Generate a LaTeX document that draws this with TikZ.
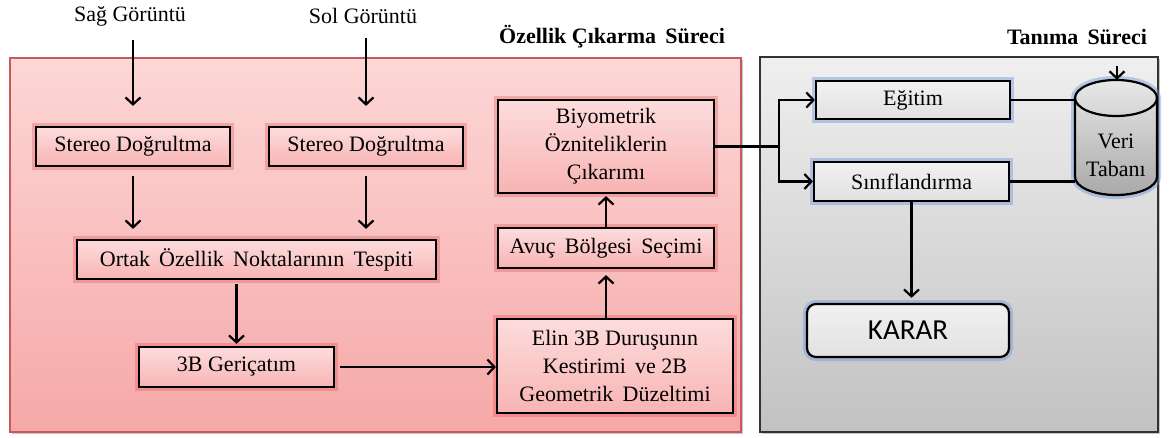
\documentclass[tikz,border=0pt]{standalone}
\usepackage{fontspec}
\setmainfont{Liberation Serif}
\newfontfamily\karfont{Carlito}
\usetikzlibrary{arrows.meta,shadows}
\definecolor{pinkA}{HTML}{FDD6D6}
\definecolor{pinkB}{HTML}{F6A8A8}
\definecolor{pinkBorder}{HTML}{C85A5A}
\definecolor{boxA}{HTML}{FDDCDC}
\definecolor{boxB}{HTML}{F8B4B4}
\definecolor{redglow}{HTML}{E04848}
\definecolor{grayA}{HTML}{EFEFEF}
\definecolor{grayB}{HTML}{C2C2C2}
\definecolor{blueglow}{HTML}{6F98D8}
\definecolor{cylA}{HTML}{E8E8E8}
\definecolor{cylB}{HTML}{A9A9A9}
\begin{document}
\begin{tikzpicture}[x=1pt,y=-1pt,
  txt/.style={font=\fontsize{22}{28}\selectfont, align=center, inner sep=0pt},
  ttl/.style={font=\fontsize{22}{26}\selectfont\bfseries, inner sep=0pt},
  pbox/.style={txt, draw=black, line width=2.2pt, top color=boxA, bottom color=boxB,
     preaction={draw=redglow, line width=8pt, draw opacity=0.3}},
  bbox/.style={txt, draw=black, line width=2.2pt, top color=grayA!90!white, bottom color=grayA!70!grayB,
     preaction={draw=blueglow, line width=8pt, draw opacity=0.45}},
  arr/.style={line width=2.2pt, -{Straight Barb[length=7pt,width=15pt,line width=2.2pt]}},
  ln/.style={line width=2.2pt}
]
\useasboundingbox (0,0) rectangle (1169,438);
% big panels
\node[draw=pinkBorder, line width=1.4pt, top color=pinkA, bottom color=pinkB,
      minimum width=731pt, minimum height=374pt, inner sep=0pt,
      drop shadow={shadow xshift=2pt, shadow yshift=-2pt, opacity=0.45}] (fpanel) at (375.5,245) {};
\node[draw=black!80, line width=1.4pt, top color=grayA, bottom color=grayB,
      minimum width=398pt, minimum height=375pt, inner sep=0pt,
      drop shadow={shadow xshift=2pt, shadow yshift=-2pt, opacity=0.45}] (tpanel) at (959,244.5) {};
\node[ttl] (t1) at (612,37) {Özellik Çıkarma\, Süreci};
\node[ttl] (t2) at (1077,37) {Tanıma\, Süreci};
% inputs
\node[txt] (sag) at (130,16) {Sağ Görüntü};
\node[txt] (sol) at (363,16) {Sol Görüntü};
% left boxes
\node[pbox, minimum width=194pt, minimum height=39pt] (sd1) at (133,146.5) {Stereo Doğrultma};
\node[pbox, minimum width=194pt, minimum height=39pt] (sd2) at (366,146.5) {Stereo Doğrultma};
\node[pbox, minimum width=359pt, minimum height=39pt] (ortak) at (256.5,259.5) {Ortak\, Özellik\, Noktalarının\, Tespiti};
\node[pbox, minimum width=195pt, minimum height=40pt] (ger) at (236.5,367) {3B Geriçatım};
\node[pbox, minimum width=236pt, minimum height=94pt] (elin) at (615,366) {Elin 3B Duruşunın\\Kestirimi\, ve 2B\\Geometrik\, Düzeltimi};
\node[pbox, minimum width=216pt, minimum height=40pt] (avuc) at (606,248) {Avuç\, Bölgesi\, Seçimi};
\node[pbox, minimum width=216pt, minimum height=93pt] (biyo) at (606,146.5) {Biyometrik\\Öznitelikler\-in\\Çıkarımı};
% right boxes
\node[bbox, minimum width=194pt, minimum height=38pt] (egit) at (913,100) {Eğitim};
\node[bbox, minimum width=195pt, minimum height=39pt] (sinif) at (911.5,181.5) {Sınıflandırma};
\node[bbox, rounded corners=9pt, minimum width=202pt, minimum height=53pt,
      font=\karfont\fontsize{29}{30}\selectfont] (karar) at (908,330.5) {KARAR};
% cylinder
\draw[draw=blueglow, draw opacity=0.45, line width=8pt] (1075,98) -- (1075,177) arc[start angle=180, end angle=0, x radius=41, y radius=18] -- (1157,98) arc[start angle=0, end angle=-180, x radius=41, y radius=18] -- cycle;
\draw[line width=2.2pt, top color=cylA, bottom color=cylB] (1075,98) -- (1075,177) arc[start angle=180, end angle=0, x radius=41, y radius=18] -- (1157,98) arc[start angle=0, end angle=-180, x radius=41, y radius=18] -- cycle;
\draw[line width=2.2pt] (1075,98) arc[start angle=180, end angle=0, x radius=41, y radius=18];
\node[txt, minimum width=82pt, minimum height=115pt] (veri) at (1116,137.5) {};
\node[txt] (veritxt) at (1116,155) {Veri\\Tabanı};
\coordinate (vtop) at (1117,66);
% connectors
\draw[arr, shorten <=14pt, shorten >=20pt] (sag.south -| sd1.north) -- (sd1.north);
\draw[arr, shorten <=14pt, shorten >=20pt] (sol.south -| sd2.north) -- (sd2.north);
\draw[arr, shorten <=9pt, shorten >=10pt] (sd1.south) -- (sd1.south |- ortak.north);
\draw[arr, shorten <=9pt, shorten >=10pt] (sd2.south) -- (sd2.south |- ortak.north);
\draw[arr, shorten <=4pt, shorten >=2pt] (ger.north |- ortak.south) -- (ger.north);
\draw[arr, shorten <=5pt] (ger.east) -- (elin.west |- ger.east);
\draw[arr, shorten >=6pt] (avuc.south |- elin.north) -- (avuc.south);
\draw[arr, shorten >=2pt] (avuc.north) -- (biyo.south);
\coordinate (jn) at (779,146.5);
\draw[ln] (biyo.east) -- (jn);
\draw[arr] (jn) |- (egit.west);
\draw[arr] (jn) |- (sinif.west);
\draw[ln] (egit.east) -- (egit.east -| veri.west);
\draw[ln] (sinif.east) -- (sinif.east -| veri.west);
\draw[arr, shorten >=5pt] (sinif.south) -- (sinif.south |- karar.north);
\draw[arr] (vtop) -- (vtop |- veri.north);
\end{tikzpicture}
\end{document}
